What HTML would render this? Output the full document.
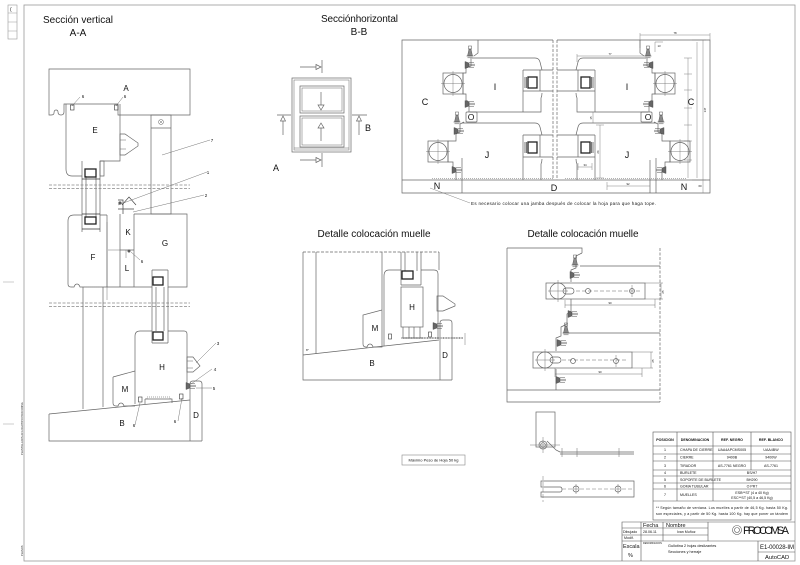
<!DOCTYPE html>
<html><head><meta charset="utf-8">
<style>
html,body{margin:0;padding:0;background:#fff;}
svg{display:block;}
text{font-family:"Liberation Sans",sans-serif;fill:#111;}
</style></head><body>
<svg width="800" height="565" viewBox="0 0 800 565" xmlns="http://www.w3.org/2000/svg">
<defs>
<g id="hw">
 <path d="M-1,-3.5 L3,-2 L3,2 L-1,3.5 Z" fill="#666" stroke="#444" stroke-width="0.4"/>
 <path d="M3,-2.5 H8 M3,-0.8 H9 M3,0.8 H9 M3,2.5 H8" stroke="#555" stroke-width="0.5" fill="none"/>
</g>
<g id="hwv">
 <path d="M-2.5,0 L-1,-7 H1 L2.5,0 Z" fill="#888" stroke="#444" stroke-width="0.4"/>
 <path d="M-3.5,0 H3.5 M-2.5,1.8 H2.5" stroke="#444" stroke-width="0.5" fill="none"/>
 <rect x="-1.5" y="-10" width="3" height="3" fill="none" stroke="#555" stroke-width="0.5"/>
</g>
<g id="halfL" fill="none" stroke="#666" stroke-width="0.7">
 <path d="M478,40 V53 L474,56 M471,58 V66 L466,68 V73 H463 V94 H466 V100 L469,102 V112 M464,122 L460,124 V132 L456,134 V141 H448 V162 H453 V169 L456,171 V180"/>
 <path d="M472,58 H535 Q539,58 540,62 L542,70 M542,93 Q542,96 541,98 L541,112 H470"/>
 <path d="M523,70 H553 M523,91 H553 M540,70 V91 M523,70 V112"/>
 <rect x="528" y="77" width="9" height="11" stroke="#222" stroke-width="1.3"/>
 <path d="M525,77 V88 M526.5,77 V88" stroke="#555" stroke-width="0.8"/>
 <path d="M462,123 H535 Q539,123 540,127 L542,135 M542,159 Q542,162 541,164 L541,180"/>
 <path d="M523,135 H553 M523,157 H553 M540,135 V157 M523,135 V180"/>
 <rect x="528" y="142" width="9" height="11" stroke="#222" stroke-width="1.3"/>
 <path d="M525,142 V153 M526.5,142 V153" stroke="#555" stroke-width="0.8"/>
 <rect x="466" y="112" width="11" height="10" rx="1"/>
 <rect x="443" y="73" width="20" height="21"/>
 <circle cx="453" cy="83.5" r="9"/>
 <path d="M441,83.5 H465 M453,71 V96" stroke-width="0.4"/>
 <rect x="428" y="141" width="20" height="21"/>
 <circle cx="438" cy="151.5" r="9"/>
 <path d="M426,151.5 H450 M438,139 V164" stroke-width="0.4"/>
 <path d="M462,158 V193"/>
 <path d="M432,178.5 H553" stroke="#999" stroke-dasharray="1,1"/>
 <use href="#hwv" x="470" y="56"/>
 <use href="#hw" x="466" y="65"/>
 <use href="#hw" x="466" y="104"/>
 <use href="#hwv" x="457" y="122"/>
 <use href="#hw" x="455" y="131"/>
 <use href="#hw" x="453" y="170"/>
</g>
</defs>

<!-- Frame -->
<rect x="24" y="5" width="771" height="556" fill="none" stroke="#999" stroke-width="0.8"/>
<g fill="none" stroke="#999" stroke-width="0.6">
 <rect x="8" y="5" width="9" height="34"/>
 <path d="M8,13 H17 M8,22 H17 M8,31 H17"/>
 <path d="M3,282 H14 M3,424 H14"/>
</g>
<text x="10" y="11" font-size="5" fill="#555">(</text>
<text transform="translate(23,455) rotate(-90)" font-size="2.6" fill="#555">PLANTILLA DIN A3 LOGOTIPO PROCOMSA</text>
<text transform="translate(23,556) rotate(-90)" font-size="2.6" fill="#555">PLANOS</text>

<!-- ===== Sección vertical A-A ===== -->
<text x="43" y="23" font-size="10" textLength="70">Sección vertical</text>
<text x="78" y="36" font-size="10" text-anchor="middle">A-A</text>

<g fill="none" stroke="#666" stroke-width="0.7">
 <path d="M49,69 H190 V115 H118 V104 H64 V112 Q64,115 61,115 Q58,115 58,112 Q58,110 56,110 Q54,110 54,113 Q54,115 51,115 H49 Z"/>
 <path d="M66,104 V169 Q66,176 72,176 H82 M100,176 V161 H120 V104"/>
 <path d="M100,161 H104 V176 H100"/>
 <path d="M82,161 V232 M100,161 V232 M86,176 V217 M96,176 V217"/>
 <rect x="85" y="169" width="11" height="8" stroke="#222" stroke-width="1.3"/>
 <rect x="85" y="217" width="11" height="7" stroke="#222" stroke-width="1.3"/>
 <path d="M82,179 H100 M82,214 H100 M82,229 H100" stroke="#333"/>
 <path d="M120,134 H125 L138,143 V146 L125,155 H120 Z"/>
 <path d="M120,140 H126 M120,149 H126" stroke-width="0.5"/>
 <rect x="151" y="115" width="20" height="99"/>
 <path d="M151,128 H171"/>
 <circle cx="161" cy="122" r="2.5" stroke-width="0.5"/>
 <path d="M159.5,120.5 L162.5,123.5 M162.5,120.5 L159.5,123.5" stroke-width="0.5"/>
 <path d="M49,185 H190 M49,188.5 H190 M49,303 H190 M49,306.5 H190" stroke="#888" stroke-dasharray="3,1.5"/>
 <path d="M68,221 Q68,215 74,215 H82 M100,215 H107 M68,221 V284 Q68,287 71,287 H74 Q75,284 77,284 Q79,284 80,287 H107 V215"/>
 <path d="M84,287 H100" stroke="#888" stroke-dasharray="1,1"/>
 <path d="M120,214 V287 M134,214 V287 M120,250 H134 M107,287 H134"/>
 <path d="M118,200 H123 V214 M122,205 L129,197 L136,205 M118,209 H134" stroke="#444"/>
 <circle cx="120" cy="203" r="1.3" fill="#555"/>
 <path d="M134,214 H187 V287 H168 V270 M152,270 V287 H134"/>
 <path d="M152,270 H168 M152,287 V331 M168,287 V331 M156,287 V331 M164,287 V331"/>
 <rect x="153" y="277" width="10" height="8" stroke="#222" stroke-width="1.3"/>
 <rect x="153" y="332" width="10" height="8" stroke="#222" stroke-width="1.3"/>
 <path d="M107,222 V300 M108,250 H120 M126,250 V258" stroke-width="0.45"/>
 <circle cx="129" cy="251" r="1.2" fill="#555"/>
 <path d="M83,287 V409 M103,287 V407"/>
 <path d="M135,336 Q135,331 140,331 H152 M168,331 H184 Q187,331 187,334 V383 M135,336 V404"/>
 <path d="M152,343 H168 M152,331 V343 M168,331 V343"/>
 <path d="M113,377 L135,371 M113,377 V403 Q113,406 116,406 H118 Q119,403 121,403 Q123,403 124,406 H135"/>
 <path d="M145,399 H172 V403 M145,399 V404"/>
 <path d="M147,399 V397 H170 V399" stroke="#888" stroke-dasharray="1,1"/>
 <path d="M49,414 L190,400 M49,414 V441 H202"/>
 <path d="M190,441 V384 Q190,381 193,381 H199 Q202,381 202,384 V441"/>
 <path d="M187,357 H193 L200,366 L193,372 H187 Z"/>
 <path d="M187,361 H193 M187,368 H193" stroke-width="0.5"/>
 <path d="M162,155 L210,140 M118,205 L207,172 M133,212 L204,195 M196,363 L216,343 M191,384 L212,369 M196,388 L212,388 M140,403 L135,425 M182,398 L178,421 M72,106 L80,97 M116,106 L123,97 M131,252 L140,260" stroke-width="0.45"/>
 <!-- bolts -->
 <rect x="138.5" y="397" width="3.5" height="5" stroke="#333" stroke-width="0.6"/>
 <rect x="179.5" y="394" width="3.5" height="5" stroke="#333" stroke-width="0.6"/>
 <rect x="70.5" y="105" width="3.5" height="5" stroke="#333" stroke-width="0.6"/>
 <rect x="114.5" y="105" width="3.5" height="5" stroke="#333" stroke-width="0.6"/>
</g>
<use href="#hw" x="187" y="386"/>
<g font-size="8" text-anchor="middle">
 <text x="126" y="91">A</text>
 <text x="95" y="133">E</text>
 <text x="128" y="235">K</text>
 <text x="165" y="246">G</text>
 <text x="93" y="260">F</text>
 <text x="127" y="271">L</text>
 <text x="162" y="370">H</text>
 <text x="125" y="392">M</text>
 <text x="122" y="426">B</text>
 <text x="196" y="418">D</text>
</g>
<g font-size="4.5" text-anchor="middle" fill="#333">
 <text x="83" y="98">6</text><text x="125" y="98">6</text>
 <text x="142" y="263">6</text><text x="134" y="427">6</text><text x="175" y="423">6</text>
 <text x="212" y="142">7</text><text x="208" y="174">1</text><text x="206" y="197">2</text>
 <text x="218" y="345">3</text><text x="215" y="371">4</text><text x="214" y="390">5</text>
</g>

<!-- ===== Sección horizontal B-B ===== -->
<text x="321" y="22" font-size="10" textLength="77">Secciónhorizontal</text>
<text x="359" y="35" font-size="10" text-anchor="middle">B-B</text>

<g fill="none" stroke="#666" stroke-width="0.7">
 <rect x="292" y="78" width="59" height="74"/>
 <rect x="294" y="80" width="55" height="70" stroke-width="0.5"/>
 <rect x="300" y="86" width="44" height="27"/>
 <rect x="302" y="88" width="40" height="23" stroke-width="0.5"/>
 <rect x="300" y="116" width="44" height="31"/>
 <rect x="302" y="118" width="40" height="27" stroke-width="0.5"/>
 <path d="M294,148 H349" stroke-width="0.5"/>
 <path d="M321,92 V105 M318,105 L321,110 L324,105 Z"/>
 <path d="M321,141 V128 M318,128 L321,123 L324,128 Z"/>
 <path d="M300,67 H316 M316,64.5 L321,67 L316,69.5 Z M322,60 V73"/>
 <path d="M300,160 H316 M316,157.5 L321,160 L316,162.5 Z M322,153 V167"/>
 <path d="M277,115 H291 M283,135 V121 M280.5,121 L283,116 L285.5,121 Z"/>
 <path d="M352,115 H367 M359,135 V121 M356.5,121 L359,116 L361.5,121 Z"/>
</g>
<text x="276" y="171" font-size="9" text-anchor="middle">A</text>
<text x="368" y="131" font-size="9" text-anchor="middle">B</text>

<g fill="none" stroke="#666" stroke-width="0.7">
 <path d="M553,40 H402 V193 H710 V40 H557"/>
 <path d="M402,180 H710"/>
 <path d="M553,40 V180 M557,40 V180" stroke-dasharray="3,1.5"/>
 <path d="M557,70 H565 M557,91 H565 M557,135 H565 M557,157 H565"/>
 <path d="M650,160 V193"/>
 <g stroke-width="0.45" stroke="#777">
  <path d="M640,35 H710 M640,33 V48 M710,33 V40"/>
  <path d="M697,42 V178 M703,40 V193 M692,40 H706 M692,180 H706"/>
  <path d="M688,58 V178 M684,58 H692 M684,74 H692 M684,90 H692 M684,108 H692 M684,125 H692 M684,141 H692 M684,160 H692"/>
  <path d="M577,56 H647 M577,54 V62"/>
  <path d="M600,125 V178 M596,125 H604 M596,178 H604"/>
  <path d="M593,112 V123"/>
  <path d="M578,167 H592 M578,163 V170 M592,163 V170"/>
  <path d="M607,186 H650 M607,182 V190"/>
  <path d="M655,42 H663 M655,42 V52"/>
  <path d="M430,188 L470,203"/>
 </g>
</g>
<use href="#halfL"/>
<use href="#halfL" transform="translate(1118,0) scale(-1,1)"/>
<g font-size="2.8" fill="#444" text-anchor="middle">
 <text x="675" y="34">78</text><text x="610" y="55">77</text><text x="659" y="47">13</text>
 <text x="628" y="185">92</text><text x="585" y="166">34</text><text x="700" y="187">60</text>
 <text transform="translate(706,110) rotate(-90)">147</text>
 <text transform="translate(599,152) rotate(-90)">26</text>
 <text transform="translate(592,118) rotate(-90)">15</text>
</g>
<g font-size="9" text-anchor="middle">
 <text x="425" y="105">C</text>
 <text x="495" y="90">I</text>
 <text x="471" y="120" font-size="8.5">O</text>
 <text x="487" y="158">J</text>
 <text x="437" y="189">N</text>
 <text x="554" y="191">D</text>
 <text x="627" y="90">I</text>
 <text x="648" y="120" font-size="8.5">O</text>
 <text x="627" y="158">J</text>
 <text x="691" y="105">C</text>
 <text x="684" y="190">N</text>
</g>
<text x="471" y="205" font-size="4.5" textLength="185" fill="#222">Es necesario colocar una jamba después de colocar la hoja para que haga tope.</text>

<!-- ===== Detalle colocación muelle (left) ===== -->
<text x="374" y="237" font-size="10" text-anchor="middle" textLength="113">Detalle colocación muelle</text>
<g fill="none" stroke="#666" stroke-width="0.7">
 <path d="M303,252 H439" stroke-dasharray="3,1.5"/>
 <path d="M303,252 V380 H452 M316,252 V354 M303,355 L439,340"/>
 <path d="M439,252 V270"/>
 <path d="M382,252 V310 L363,315 V344 Q363,347 366,347 H367 Q368,344 370,344 Q372,344 373,347 H382 V310"/>
 <path d="M384,276 Q384,270 389,270 H401 M421,270 H434 Q438,270 438,274 V339"/>
 <path d="M384,276 V346"/>
 <path d="M401,252 V285 M421,252 V285 M405,252 V271 M417,252 V271 M401,285 H421"/>
 <rect x="402" y="271" width="11" height="8" stroke="#222" stroke-width="1.3"/>
 <rect x="401" y="287" width="22" height="40"/>
 <path d="M403,327 V338 M409,327 V338 M414,327 V338 M420,327 V338 M401,338 H423"/>
 <path d="M437,296 H443 L455,304 V306 L443,311 H437 Z"/>
 <path d="M440,380 V323 Q440,320 443,320 H449 Q452,320 452,323 V380"/>
 <path d="M403,338 H463" stroke="#999" stroke-width="2" stroke-dasharray="1,0.6"/>
 <path d="M465,333 V345" stroke-width="0.45"/>
 <rect x="388.5" y="334" width="3" height="5" stroke="#333" stroke-width="0.6"/>
 <rect x="428.5" y="332" width="3" height="5" stroke="#333" stroke-width="0.6"/>
</g>
<use href="#hw" x="434" y="326"/>
<text x="306" y="351" font-size="3" fill="#444">8°</text>
<g font-size="8" text-anchor="middle">
 <text x="375" y="331">M</text>
 <text x="412" y="310">H</text>
 <text x="372" y="366">B</text>
 <text x="445" y="358">D</text>
</g>

<!-- ===== Detalle colocación muelle (right) ===== -->
<text x="583" y="237" font-size="10" text-anchor="middle" textLength="111">Detalle colocación muelle</text>
<g fill="none" stroke="#666" stroke-width="0.7">
 <path d="M507,248 H582 V253 M507,248 V402 H660"/>
 <path d="M660,248 V402" stroke-dasharray="3,1.5"/>
 <path d="M580,266 H660 M563,333 H660 M507,390 H660"/>
 <path d="M582,253 L576,256 V268 L571,270 V282 M571,299 V312 L567,314 V324 L561,327 V336 L556,338 V351 M556,369 V390"/>
 <rect x="546" y="283" width="99" height="16"/>
 <circle cx="558" cy="291" r="8"/>
 <path d="M548,291 H568 M558,280 V302" stroke-width="0.45"/>
 <rect x="563" y="288" width="11" height="6" rx="3"/>
 <path d="M576,291 H641" stroke-dasharray="4,2" stroke-width="0.5"/>
 <circle cx="588" cy="291" r="2.5"/>
 <circle cx="632" cy="291" r="2.5"/>
 <path d="M632,285 V297" stroke-width="0.45"/>
 <path d="M645,283 H663 M645,299 H663 M661,283 V299 M565,300 V308 M655,299 V308 M565,305 H655" stroke-width="0.45"/>
 <rect x="533" y="352" width="99" height="16"/>
 <circle cx="545" cy="360" r="8"/>
 <path d="M535,360 H555 M545,349 V371" stroke-width="0.45"/>
 <rect x="550" y="357" width="11" height="6" rx="3"/>
 <path d="M562,360 H628" stroke-dasharray="4,2" stroke-width="0.5"/>
 <circle cx="573" cy="361" r="2.5"/>
 <circle cx="616" cy="361" r="2.5"/>
 <path d="M616,355 V367" stroke-width="0.45"/>
 <path d="M632,352 H653 M632,368 H653 M651,352 V368 M555,368 V377 M642,368 V377 M555,374 H642" stroke-width="0.45"/>
</g>
<use href="#hwv" x="575" y="265"/>
<use href="#hw" x="571" y="275"/>
<use href="#hw" x="569" y="314"/>
<use href="#hwv" x="566" y="333"/>
<use href="#hw" x="558" y="343"/>
<use href="#hw" x="557" y="380"/>
<g font-size="2.8" fill="#444" text-anchor="middle">
 <text x="610" y="304">90</text><text x="600" y="373">90</text>
 <text transform="translate(664,292) rotate(-90)">25</text>
 <text transform="translate(654,361) rotate(-90)">25</text>
</g>

<!-- Bottom small plate drawing -->
<g fill="none" stroke="#666" stroke-width="0.7">
 <rect x="536" y="412" width="19" height="35"/>
 <circle cx="543" cy="445" r="4"/>
 <circle cx="543" cy="445" r="2.3"/>
 <path d="M530,445 H560 M543,437 V453" stroke-width="0.45"/>
 <path d="M547,441 L556,450 L560,452 H634 M560,454 H634" />
 <path d="M562,448 V457 M577,448 V457 M619,448 V457" stroke-width="0.5"/>
 <path d="M541,481 H634 V497 H541 V492 H560 Q562,492 562,489.5 Q562,487 560,487 H541 Z"/>
 <path d="M543,476 V502 M562,489 H634" stroke-width="0.45" stroke-dasharray="4,2"/>
 <circle cx="576" cy="489" r="3"/>
 <circle cx="618" cy="489" r="3"/>
 <path d="M576,484 V494 M618,484 V494" stroke-width="0.45"/>
</g>

<rect x="402" y="455" width="63" height="10" fill="none" stroke="#888" stroke-width="0.6"/>
<text x="433.5" y="461.5" font-size="4" text-anchor="middle" fill="#222">Máximo Peso de Hoja 50 kg</text>

<!-- ===== Table ===== -->
<g fill="none" stroke="#555" stroke-width="0.6">
 <rect x="653" y="432" width="138" height="88"/>
 <path d="M653,446 H791 M653,454 H791 M653,461 H791 M653,470 H791 M653,476 H791 M653,483 H791 M653,489 H791 M653,501 H791"/>
 <path d="M677,432 V501 M713,432 V501 M751,432 V470"/>
</g>
<g font-size="3.6" fill="#222" text-anchor="middle">
 <g font-weight="bold">
  <text x="665" y="441">POSICION</text>
  <text x="695" y="441">DENOMINACION</text>
  <text x="732" y="441">REF. NEGRO</text>
  <text x="771" y="441">REF. BLANCO</text>
 </g>
 <text x="665" y="451">1</text><text x="665" y="458.5">2</text><text x="665" y="467">3</text>
 <text x="665" y="474">4</text><text x="665" y="481">5</text><text x="665" y="487.5">6</text><text x="665" y="496">7</text>
 <g text-anchor="start">
  <text x="680" y="451">CHAPA DE CIERRE</text>
  <text x="680" y="458.5">CIERRE</text>
  <text x="680" y="467">TIRADOR</text>
  <text x="680" y="474">BURLETE</text>
  <text x="680" y="481">SOPORTE DE BURLETE</text>
  <text x="680" y="487.5">GOMA TUBULAR</text>
  <text x="680" y="496">MUELLES</text>
 </g>
 <text x="732" y="451">UAA4APCMS005</text><text x="771" y="451">UAA4BW</text>
 <text x="732" y="458.5">9400B</text><text x="771" y="458.5">9400W</text>
 <text x="732" y="467">AS-7761 NEGRO</text><text x="771" y="467">AS-7761</text>
 <text x="752" y="474">BS/H7</text>
 <text x="752" y="481">BH290</text>
 <text x="752" y="487.5">O PR7</text>
 <text x="752" y="494">ESB**ST (4 a 40 Kg)</text>
 <text x="752" y="499">ESC**ST (40,5 a 46,5 Kg)</text>
 <text x="722" y="509" textLength="132">** Según tamaño de ventana. Los muelles a partir de 46,5 Kg. hasta 50 Kg.</text>
 <text x="722" y="515" textLength="132">son especiales, y a partir de 50 Kg. hasta 100 Kg. hay que poner un tándem</text>
</g>

<!-- ===== Title block ===== -->
<g fill="none" stroke="#555" stroke-width="0.6">
 <path d="M622,561 V522 H795"/>
 <path d="M641,522 V561 M663,522 V541 M708,522 V541 M758,541 V561"/>
 <path d="M622,528 H708 M622,535 H708 M622,541 H795 M758,552 H795"/>
 <circle cx="737" cy="530" r="4.5"/>
 <circle cx="737" cy="530" r="2.5"/>
</g>
<g fill="#222">
 <text x="643" y="527" font-size="5.5">Fecha</text>
 <text x="666" y="527" font-size="5.5">Nombre</text>
 <text x="623" y="533" font-size="3.6">Dibujado</text>
 <text x="643" y="533" font-size="3.6">28.06.11</text>
 <text x="677" y="533" font-size="3.6">Ivan Muñoz</text>
 <text x="624" y="539" font-size="3.6">Modif.</text>
 <text x="623" y="548" font-size="5.5">Escala</text>
 <text x="628" y="557" font-size="5.5">%</text>
 <text x="643" y="544" font-size="2.4" fill="#666">DENOMINACION</text>
 <text x="668" y="547" font-size="3.8">Gullotina 2 hojas deslizantes</text>
 <text x="668" y="553" font-size="3.8">Secciones y herraje</text>
 <text x="760" y="549" font-size="6" textLength="34">E1-00028-IM</text>
 <text x="765" y="559" font-size="5.8">AutoCAD</text>
 <text x="743" y="534" font-size="11" textLength="46" font-family="Liberation Sans Narrow, Liberation Sans, sans-serif">PROCOMSA</text>
</g>
</svg>
</body></html>
